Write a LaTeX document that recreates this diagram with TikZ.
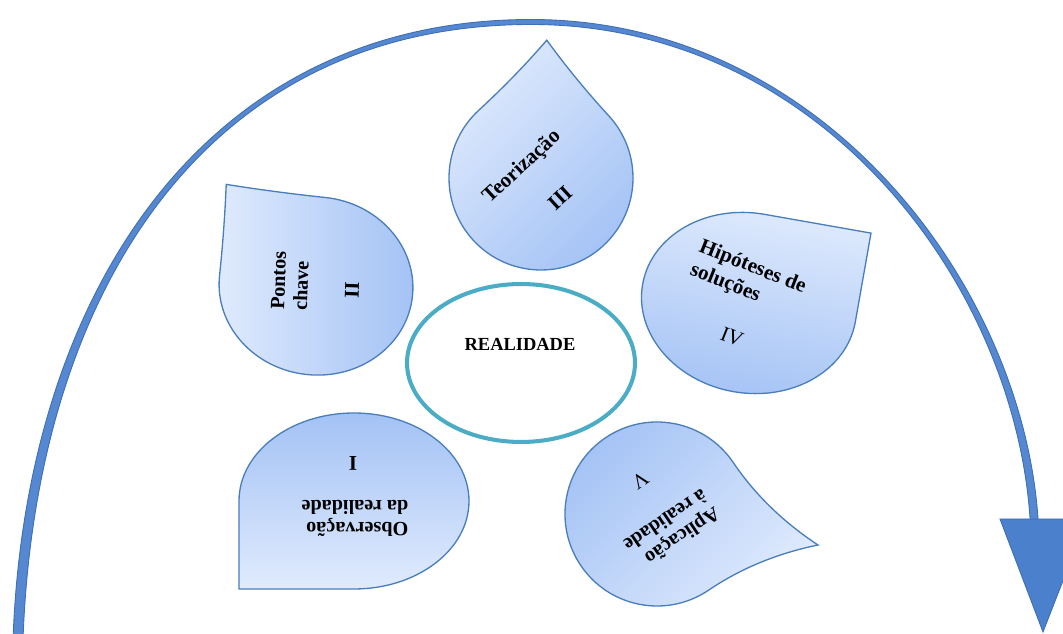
\documentclass[tikz,border=0pt]{standalone}
\usepackage{fontspec}
\setmainfont{Liberation Serif}
\usetikzlibrary{shapes.geometric}
\definecolor{dropedge}{HTML}{4A7EBB}
\definecolor{droplight}{HTML}{E0EBFD}
\definecolor{dropdark}{HTML}{A3C2F5}
\definecolor{ringteal}{HTML}{4BACC6}
\definecolor{arcblue}{HTML}{5588D0}
\definecolor{arcedge}{HTML}{3E6EB4}
\definecolor{headblue}{HTML}{4A80CC}
\newcommand{\tdrop}[7]{% x,y,rot,w,h,a,shading angle
\begin{scope}[shift={(#1,-#2)},rotate=#3]
\pgfmathsetmacro\tdax{#6*#4}
\pgfmathsetmacro\tday{#6*#5}
\pgfmathsetmacro\tdcy{\tday+2*#5*(1-#6)/3}
\pgfmathsetmacro\tdcx{\tdax+2*#4*(1-#6)/3}
\path[dropshape, shading angle=#7] (0,#5) .. controls ({\tdax/3},#5) and ({2*\tdax/3},\tdcy) .. (\tdax,\tday) .. controls (\tdcx,{2*\tday/3}) and (#4,{\tday/3}) .. (#4,0) arc[start angle=0,end angle=-270,x radius=#4,y radius=#5] -- cycle;
\end{scope}}
\tikzset{
  dropshape/.style={draw=dropedge, line width=0.75pt, top color=droplight, bottom color=dropdark},
  lbl/.style={font=\bfseries\fontsize{11.5}{13}\selectfont, align=left, inner sep=0pt},
  numb/.style={font=\bfseries\fontsize{12}{13}\selectfont, inner sep=0pt},
  numr/.style={font=\fontsize{12}{13}\selectfont, inner sep=0pt},
}
\begin{document}
\begin{tikzpicture}[x=0.02cm,y=0.02cm]
\useasboundingbox (0,0) rectangle (1063,-634);
\clip (0,0) rectangle (1063,-634);
% big curved arrow
\fill[arcblue, draw=arcedge, line width=0.5pt]
  (531,-19.5) .. controls (200,-19.5) and (25,-300) .. (13,-640)
  -- (23,-640) .. controls (35,-300) and (200,-24.5) .. (531,-24.5)
  .. controls (830,-24.5) and (1026,-300) .. (1031,-540)
  -- (1039,-540) .. controls (1034,-300) and (830,-19.5) .. (531,-19.5) -- cycle;
\fill[headblue, draw=arcedge, line width=0.5pt] (1000,-519) -- (1087,-519) -- (1043,-632) -- cycle;
% teardrops
\tdrop{541}{178}{42.6}{92}{92}{1.06}{45}
\tdrop{316}{286}{84}{89}{97}{1.03}{90}
\tdrop{749}{303}{-10}{108}{90}{1.0}{-10}
\tdrop{354}{501}{180}{115}{88}{1.0}{180}
\tdrop{657}{514}{-55.9}{92}{92}{1.26}{-135}
% centre
\node (real) [ellipse, draw=ringteal, line width=2.3pt, fill=white, minimum width=4.56cm, minimum height=3.16cm] at (521,-363) {};
\node (realtxt) [font=\bfseries\fontsize{10.5}{12}\selectfont, inner sep=0pt] at (520,-344) {REALIDADE};
% labels
\node (t3) [lbl, font=\bfseries\fontsize{12}{13}\selectfont, rotate=42.6] at (522,-167) {Teorização};
\node (n3) [numb, rotate=42.6] at (560,-198) {III};
\node (t2) [lbl, rotate=88] at (290,-281) {Pontos\\chave};
\node (n2) [numb, rotate=88] at (352,-290) {II};
\node (t4) [lbl, font=\bfseries\fontsize{12}{14}\selectfont, rotate=-21.7] at (748,-279) {Hipóteses de\\soluções};
\node (n4) [numr, rotate=-21.7] at (732,-337) {IV};
\node (t1) [lbl, rotate=180] at (355,-518.5) {Observação\\da realidade};
\node (n1) [numb, rotate=180] at (353,-463) {I};
\node (t5) [lbl, rotate=214] at (672,-530) {Aplicação\\à realidade};
\node (n5) [numr, rotate=214] at (640,-480) {V};
\end{tikzpicture}
\end{document}
